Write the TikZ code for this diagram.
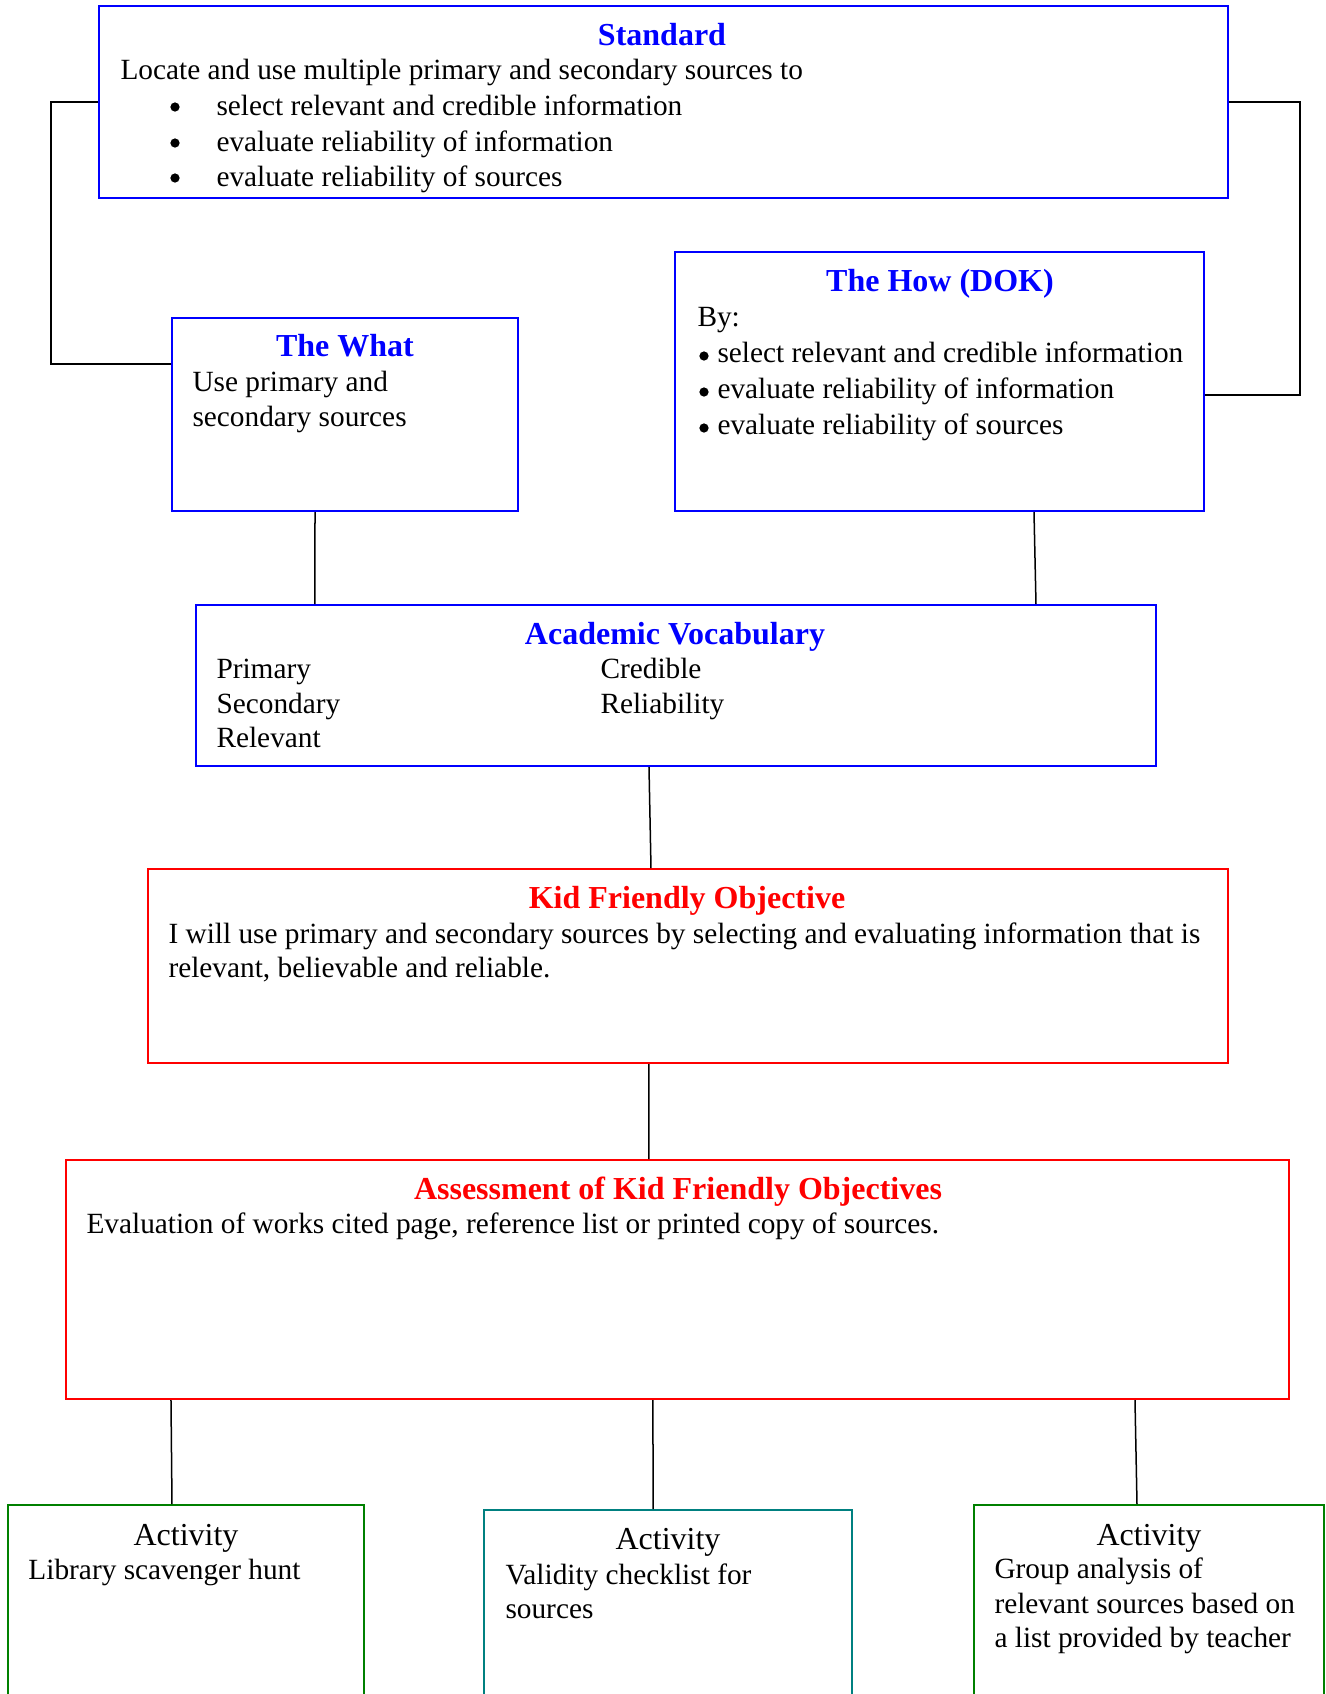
\documentclass[tikz,border=0pt]{standalone}
\usepackage{fontspec}
\setmainfont{Liberation Serif}
\usetikzlibrary{calc}
\definecolor{myblue}{RGB}{0,0,255}
\definecolor{myred}{RGB}{255,0,0}
\definecolor{mygreen}{RGB}{0,128,0}
\definecolor{myteal}{RGB}{0,128,128}
\tikzset{
  box/.style={draw=#1, line width=0.8pt, rectangle, inner sep=0pt, fill=none},
  ttl/.style={anchor=base, inner sep=0pt, text=#1, font=\fontsize{12.8}{15}\selectfont\bfseries},
  txt/.style={anchor=base west, inner sep=0pt, font=\fontsize{11.73}{14}\selectfont},
  act/.style={anchor=base, inner sep=0pt, font=\fontsize{12.8}{15}\selectfont},
  bul/.style={circle, fill=black, draw=none, inner sep=0pt, minimum size=3.7pt},
  con/.style={draw=black, line width=0.6pt},
}
\begin{document}
\begin{tikzpicture}[x=0.4pt,y=-0.4pt]
\useasboundingbox (0,0) rectangle (1326,1694);
\clip (0,0) rectangle (1326,1694);
% boxes
\node[box=myblue, minimum width=451.6pt, minimum height=76.8pt] (std) at (663.5,102) {};
\node[box=myblue, minimum width=211.6pt, minimum height=103.6pt] (how) at (939.5,381.5) {};
\node[box=myblue, minimum width=138.4pt, minimum height=77.2pt] (what) at (345,414.5) {};
\node[box=myblue, minimum width=384pt, minimum height=64.4pt] (acad) at (676,685.5) {};
\node[box=myred, minimum width=432pt, minimum height=77.6pt] (kid) at (688,966) {};
\node[box=myred, minimum width=489.2pt, minimum height=95.6pt] (assess) at (677.5,1279.5) {};
\node[box=mygreen, minimum width=142.4pt, minimum height=82pt] (act1) at (186,1607.5) {};
\node[box=myteal, minimum width=147.2pt, minimum height=80pt] (act2) at (668,1610) {};
\node[box=mygreen, minimum width=140pt, minimum height=82pt] (act3) at (1149,1607.5) {};
% connectors
\draw[con] (std.west) -- ++(-47,0) |- ($(what.north west)+(0,47)$);
\draw[con] (std.east) -- ++(71,0) |- ($(how.north east)+(0,144)$);
\draw[con] ($(what.south west)+(144,0)$) -- ($(acad.north west)+(120,0)$);
\draw[con] ($(how.south west)+(360,0)$) -- ($(acad.north west)+(841,0)$);
\draw[con] ($(acad.south west)+(454,0)$) -- ($(kid.north west)+(504,0)$);
\draw[con] ($(kid.south west)+(502,0)$) -- ($(assess.north west)+(584,0)$);
\draw[con] ($(assess.south west)+(106,0)$) -- ($(act1.north west)+(165,0)$);
\draw[con] ($(assess.south west)+(588,0)$) -- ($(act2.north west)+(170,0)$);
\draw[con] ($(assess.south west)+(1070,0)$) -- ($(act3.north west)+(164,0)$);
% Standard
\node[ttl=myblue] (stdt) at (662,45) {Standard};
\node[txt] (std1) at (120,79) {Locate and use multiple primary and secondary sources to};
\node[bul] (stdb1) at (175,107) {};
\node[bul] (stdb2) at (175,143) {};
\node[bul] (stdb3) at (175,178) {};
\node[txt] (std2) at (216,115) {select relevant and credible information};
\node[txt] (std3) at (216,151) {evaluate reliability of information};
\node[txt] (std4) at (216,186) {evaluate reliability of sources};
% How
\node[ttl=myblue] (howt) at (940,291) {The How (DOK)};
\node[txt] (how1) at (697,326) {By:};
\node[bul] (howb1) at (704,356) {};
\node[bul] (howb2) at (704,392) {};
\node[bul] (howb3) at (704,428) {};
\node[txt] (how2) at (717,362) {select relevant and credible information};
\node[txt] (how3) at (717,398) {evaluate reliability of information};
\node[txt] (how4) at (717,434) {evaluate reliability of sources};
% What
\node[ttl=myblue] (whatt) at (345,356) {The What};
\node[txt] (what1) at (192,391) {Use primary and};
\node[txt] (what2) at (192,426) {secondary sources};
% Academic
\node[ttl=myblue] (acadt) at (675,644) {Academic Vocabulary};
\node[txt] (ac1) at (216,678) {Primary};
\node[txt] (ac2) at (216,713) {Secondary};
\node[txt] (ac3) at (216,747) {Relevant};
\node[txt] (ac4) at (600,678) {Credible};
\node[txt] (ac5) at (600,713) {Reliability};
% Kid
\node[ttl=myred] (kidt) at (687,908) {Kid Friendly Objective};
\node[txt] (kid1) at (168,943) {I will use primary and secondary sources by selecting and evaluating information that is};
\node[txt] (kid2) at (168,977) {relevant, believable and reliable.};
% Assessment
\node[ttl=myred] (asst) at (678,1199) {Assessment of Kid Friendly Objectives};
\node[txt] (ass1) at (86,1233) {Evaluation of works cited page, reference list or printed copy of sources.};
% Activities
\node[act] (a1t) at (186,1545) {Activity};
\node[txt] (a1a) at (28,1579) {Library scavenger hunt};
\node[act] (a2t) at (668,1549) {Activity};
\node[txt] (a2a) at (505,1584) {Validity checklist for};
\node[txt] (a2b) at (505,1618) {sources};
\node[act] (a3t) at (1149,1545) {Activity};
\node[txt] (a3a) at (994,1578) {Group analysis of};
\node[txt] (a3b) at (994,1613) {relevant sources based on};
\node[txt] (a3c) at (994,1647) {a list provided by teacher};
\end{tikzpicture}
\end{document}
